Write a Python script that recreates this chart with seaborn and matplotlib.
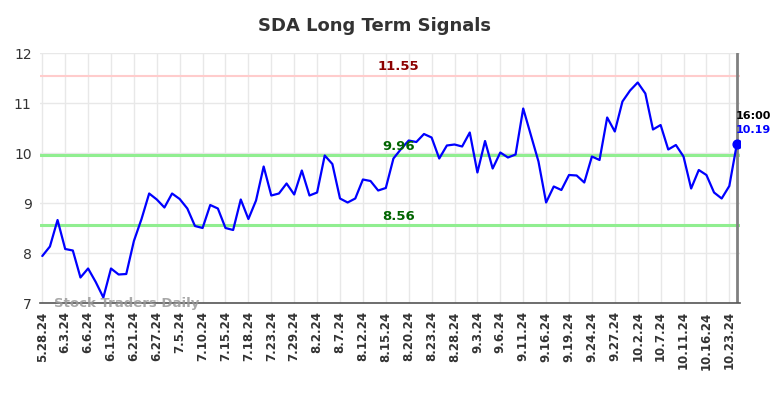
import matplotlib
matplotlib.use("Agg")
import matplotlib.pyplot as plt
import seaborn as sns
import pandas as pd
import numpy as np

prices = [7.94, 8.13, 8.66, 8.08, 8.05, 7.51, 7.69, 7.42, 7.11, 7.69,
          7.57, 7.58, 8.24, 8.68, 9.19, 9.07, 8.91, 9.19, 9.08, 8.89,
          8.54, 8.50, 8.96, 8.89, 8.50, 8.46, 9.07, 8.68, 9.05, 9.73,
          9.15, 9.19, 9.39, 9.17, 9.65, 9.15, 9.21, 9.95, 9.78, 9.09,
          9.01, 9.09, 9.47, 9.44, 9.25, 9.30, 9.89, 10.08, 10.25, 10.22,
          10.38, 10.31, 9.89, 10.15, 10.17, 10.13, 10.41, 9.61, 10.24, 9.69,
          10.01, 9.91, 9.97, 10.89, 10.36, 9.83, 9.01, 9.33, 9.26, 9.56,
          9.55, 9.41, 9.93, 9.86, 10.71, 10.43, 11.03, 11.25, 11.41, 11.19,
          10.47, 10.56, 10.07, 10.16, 9.93, 9.29, 9.66, 9.56, 9.21, 9.09,
          9.34, 10.19]

tick_labels = ["5.28.24", "6.3.24", "6.6.24", "6.13.24", "6.21.24", "6.27.24",
               "7.5.24", "7.10.24", "7.15.24", "7.18.24", "7.23.24", "7.29.24",
               "8.2.24", "8.7.24", "8.12.24", "8.15.24", "8.20.24", "8.23.24",
               "8.28.24", "9.3.24", "9.6.24", "9.11.24", "9.16.24", "9.19.24",
               "9.24.24", "9.27.24", "10.2.24", "10.7.24", "10.11.24", "10.16.24",
               "10.23.24"]

resistance = 11.55
support_hi = 9.96
support_lo = 8.56
last_time = "16:00"

sns.set_style("white")
plt.rcParams['font.family'] = ['DejaVu Sans']

fig = plt.figure(figsize=(7.84, 3.98), dpi=100)
ax = fig.add_axes([40/784, 1-303/398, 700/784, 250/398])

df = pd.DataFrame({"idx": np.arange(len(prices)), "price": prices})

tick_pos = list(range(0, len(prices), 3))[:len(tick_labels)]
for t in tick_pos:
    ax.axvline(t, color="#e8e8e8", lw=1, zorder=0)
for yv in range(7, 13):
    ax.axhline(yv, color="#e8e8e8", lw=1, zorder=0)

ax.axhline(resistance, color="#ffcccc", lw=1.5, zorder=1)
ax.axhline(support_hi, color="#90ee90", lw=2.2, zorder=1)
ax.axhline(support_lo, color="#90ee90", lw=2.2, zorder=1)

sns.lineplot(data=df, x="idx", y="price", ax=ax, color="#0000ff", lw=1.6, zorder=3)

last_i = len(prices) - 1
ax.axvline(last_i, color="#808080", lw=2, zorder=2)
ax.scatter([last_i], [prices[-1]], s=40, color="#0000ff", zorder=4)

mid = 46.7
ax.text(mid, resistance + 0.05, f"{resistance:.2f}", color="#8b0000", fontsize=9.5,
        fontweight="bold", ha="center", va="bottom")
ax.text(mid, support_hi + 0.05, f"{support_hi:.2f}", color="#006400", fontsize=9.5,
        fontweight="bold", ha="center", va="bottom")
ax.text(mid, support_lo + 0.05, f"{support_lo:.2f}", color="#006400", fontsize=9.5,
        fontweight="bold", ha="center", va="bottom")

ax.text(last_i - 0.1, prices[-1] + 0.55, last_time, color="black", fontsize=8,
        fontweight="bold", ha="left", va="center")
ax.text(last_i - 0.1, prices[-1] + 0.27, f"{prices[-1]:.2f}", color="#0000ff", fontsize=8,
        fontweight="bold", ha="left", va="center")

ax.text(1.5, 7.0, "Stock Traders Daily", color="#999999", alpha=0.85, fontsize=9.5,
        fontweight="bold", ha="left", va="center", zorder=5)

ax.set_xlim(-0.3, last_i + 0.4)
ax.set_ylim(7, 12)
ax.set_xticks(tick_pos)
ax.set_xticklabels(tick_labels, rotation=90, fontsize=8.5, fontweight="bold", color="#333333")
ax.set_yticks(range(7, 13))
ax.set_yticklabels([str(v) for v in range(7, 13)], fontsize=10, color="#333333")
ax.tick_params(axis="both", length=0, pad=6)
ax.set_xlabel("")
ax.set_ylabel("")
for s in ["top", "right", "left"]:
    ax.spines[s].set_visible(False)
ax.spines["bottom"].set_color("#555555")
ax.spines["bottom"].set_linewidth(1.2)

fig.text(374/784, 1-26/398, "SDA Long Term Signals", ha="center", va="center",
         fontsize=13, fontweight="bold", color="#333333")

fig.savefig("out.png", dpi=100)
